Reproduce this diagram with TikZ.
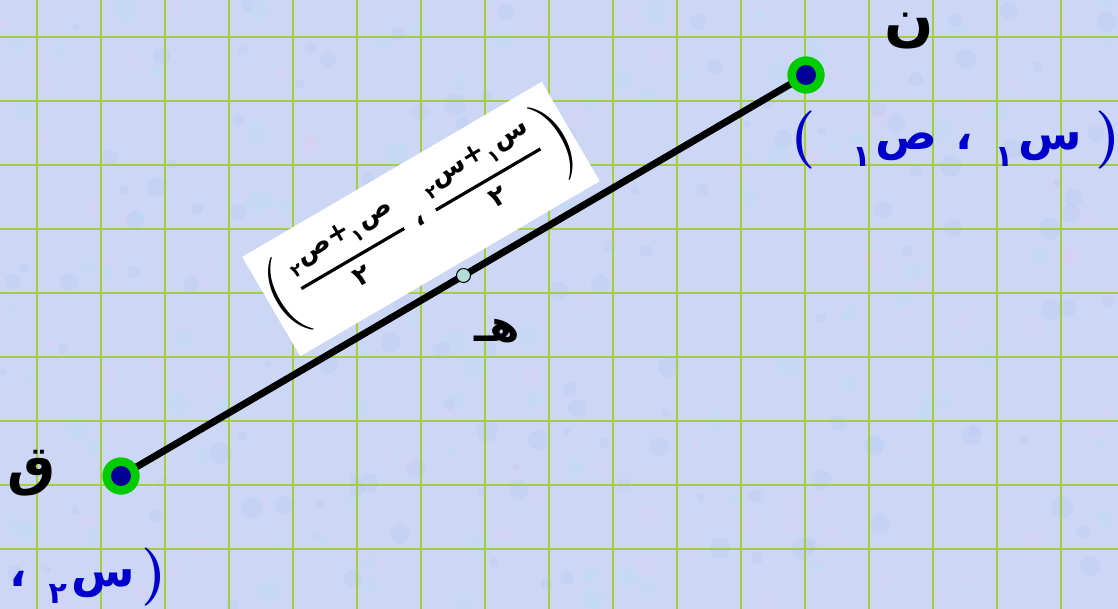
\documentclass[tikz,border=0pt]{standalone}
\usepackage{fontspec}
\usetikzlibrary{calc}
\newfontfamily\arabicfont[Script=Arabic]{DejaVu Sans}
\TeXXeTstate=1
\definecolor{bgc}{RGB}{204,215,245}
\definecolor{spotpink}{RGB}{236,200,236}
\definecolor{spotcyan}{RGB}{170,226,246}
\definecolor{spotblue}{RGB}{176,190,240}
\definecolor{gridc}{RGB}{164,206,62}
\definecolor{ptgreen}{RGB}{0,204,0}
\definecolor{ptblue}{RGB}{0,0,150}
\definecolor{lblue}{RGB}{0,0,204}
\definecolor{hfill}{RGB}{178,222,218}
\newcommand\sbs[1]{\hspace{1pt}\raisebox{-0.35em}{\fontsize{18}{18}\selectfont #1}}
\newcommand\lsub[1]{\hspace{5pt}\raisebox{-0.38em}{\fontsize{30}{30}\selectfont #1}}
\newcommand\frc[2]{\hbox{$\displaystyle{\hbox{#1}\above 3.2pt\hbox{#2}}$}}
\newcommand\bpar[2]{\hbox{\raisebox{#2}{\normalfont\fontsize{84}{84}\selectfont #1}}}
\newcommand\lpar[1]{\hbox{\raisebox{-5pt}{\normalfont\bfseries\fontsize{58}{58}\selectfont #1}}}
\begin{document}
\begin{tikzpicture}[x=1pt,y=-1pt,
  gridline/.style={gridc, line width=2.2pt},
  lbl/.style={font=\arabicfont\bfseries, inner sep=0pt},
  coordlbl/.style={text=lblue, font=\arabicfont\bfseries\fontsize{46}{50}\selectfont, inner sep=0pt},
  seg/.style={line width=7pt, black},
  ringpt/.style={circle, fill=ptgreen, minimum size=37pt, inner sep=0pt},
  corept/.style={circle, fill=ptblue, minimum size=20pt, inner sep=0pt},
  midpt/.style={circle, fill=hfill, draw=black, line width=1pt, minimum size=14pt, inner sep=0pt}]
\useasboundingbox (0,0) rectangle (1118,609);
\clip (0,0) rectangle (1118,609);
\fill[bgc] (0,0) rectangle (1118,609);
% subtle mottled background texture
\pgfmathsetseed{11}
\foreach \i in {1,...,360}{
  \pgfmathsetmacro{\px}{random(0,1118)}
  \pgfmathsetmacro{\py}{random(0,609)}
  \pgfmathsetmacro{\pr}{random(4,11)}
  \pgfmathsetmacro{\pc}{random(1,3)}
  \ifcase\pc\or\def\spc{spotpink}\or\def\spc{spotcyan}\or\def\spc{spotblue}\fi
  \fill[\spc, opacity=0.2] (\px,\py) circle[radius=\pr];
}
\foreach \x in {37,101,...,1061} \draw[gridline] (\x,0) -- (\x,609);
\foreach \y in {37,101,...,549} \draw[gridline] (0,\y) -- (1118,\y);
% formula box
\node[fill=white, rotate=30.3, minimum width=341pt, minimum height=115pt, inner sep=0pt,
  font=\arabicfont\bfseries\fontsize{27}{30}\selectfont] (formula) at (421,219)
  {\beginR\bpar{)}{-15pt}\hspace{4pt}\frc{\beginR س\sbs{١}+س\sbs{٢}\endR}{٢}\hspace{12pt}،\hspace{12pt}\frc{\beginR ص\sbs{١}+ص\sbs{٢}\endR}{٢}\hspace{4pt}\bpar{(}{-15pt}\endR};
% points
\node[ringpt] (Q) at (121,476) {};
\node[ringpt] (N) at (806,75) {};
\draw[seg] (Q.center) -- (N.center);
\node[ringpt] at (Q.center) {};
\node[ringpt] at (N.center) {};
\node[corept] (Qc) at (Q.center) {};
\node[corept] (Nc) at (N.center) {};
\node[midpt] (H) at ($(Q.center)!0.5!(N.center)$) {};
% labels
\node[lbl, font=\arabicfont\bfseries\fontsize{58}{58}\selectfont] (Nlab) at (909,31) {\beginR ن\endR};
\node[lbl, font=\arabicfont\bfseries\fontsize{54}{54}\selectfont] (Qlab) at (32,473) {\beginR ق\endR};
\node[lbl, font=\arabicfont\bfseries\fontsize{44}{44}\selectfont] (Hlab) at (497,331) {\beginR هـ\endR};
\node[coordlbl] (Ncoord) at (956,140) {\beginR\lpar{)}\hspace{14pt}س\lsub{١}\hspace{22pt}،\hspace{18pt}ص\lsub{١}\hspace{36pt}\lpar{(}\endR};
\node[coordlbl, anchor=east] (Qcoord) at (167,577) {\beginR\lpar{)}\hspace{6pt}س\lsub{٢}\hspace{22pt}،\hspace{18pt}ص\lsub{٢}\hspace{36pt}\lpar{(}\endR};
\end{tikzpicture}
\end{document}
